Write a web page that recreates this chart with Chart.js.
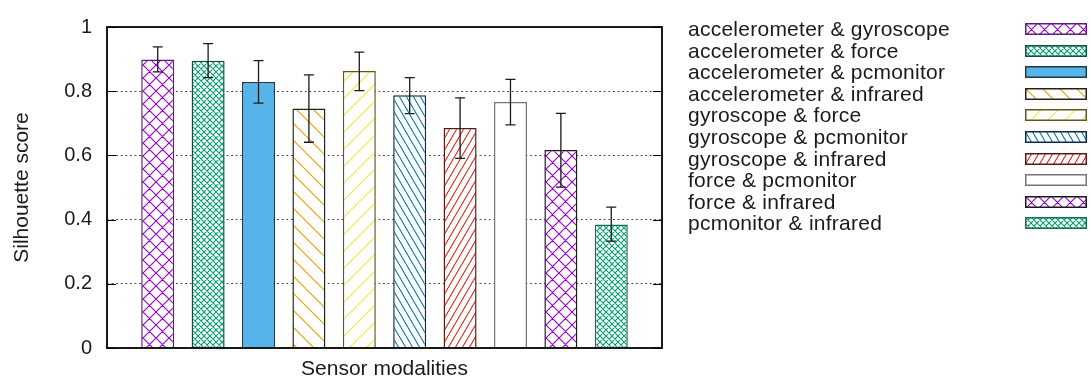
<!DOCTYPE html>
<html>
<head>
<meta charset="utf-8">
<script src="https://cdn.jsdelivr.net/npm/chart.js@4"></script>
<style>
  body { margin: 0; background: #fff; }
  #wrap { position: relative; width: 1091px; height: 380px; }
  #legend { position: absolute; left: 688px; top: 18px; font: 21px "Liberation Sans", Arial, sans-serif; color: #1a1a1a; letter-spacing: 0.25px; }
  .row { position: relative; height: 21.6px; line-height: 21.6px; width: 400px; white-space: nowrap; }
  .row canvas { position: absolute; left: 337px; top: 5px; }
</style>
</head>
<body>
<div id="wrap">
  <canvas id="c" width="1091" height="380"></canvas>
  <div id="legend"></div>
</div>
<script>
// silhouette score per sensor pair, with error bar ends
const SERIES  = ['accelerometer & gyroscope', 'accelerometer & force', 'accelerometer & pcmonitor',
                 'accelerometer & infrared', 'gyroscope & force', 'gyroscope & pcmonitor',
                 'gyroscope & infrared', 'force & pcmonitor', 'force & infrared', 'pcmonitor & infrared'];
const VALUES  = [0.899, 0.895, 0.829, 0.746, 0.863, 0.787, 0.685, 0.766, 0.617, 0.385];
const ERR_HI  = [0.938, 0.948, 0.895, 0.851, 0.922, 0.842, 0.779, 0.837, 0.731, 0.439];
const ERR_LO  = [0.860, 0.842, 0.763, 0.641, 0.802, 0.730, 0.591, 0.695, 0.501, 0.333];
const Y_TICKS = [0, 0.2, 0.4, 0.6, 0.8, 1];

// fill style per bar: [colour, pattern, border]
const FILLS = [
  ['#9400D3', 'xbig',   '#5a1f7a'],
  ['#009E73', 'xsmall', '#0f4f3c'],
  ['#56B4E9', 'solid',  '#1f3a4f'],
  ['#E69F00', 'back',   '#222222'],
  ['#F0E442', 'fwd',    '#5f5a1c'],
  ['#0072B2', 'backs',  '#0d2d45'],
  ['#E51E10', 'fwds',   '#5a1a12'],
  ['#ffffff', 'solid',  '#777777'],
  ['#9400D3', 'xbig',   '#1a1a1a'],
  ['#009E73', 'xsmall', '#1a6b50'],
];

function tile(color, kind) {
  const t = document.createElement('canvas');
  let w = 13, h = 13;
  if (kind === 'xsmall') { w = 6; h = 6; }
  if (kind === 'back' || kind === 'fwd') { w = 17; h = 17; }
  if (kind === 'backs' || kind === 'fwds') { w = 7; h = 12; }
  if (kind === 'solid') { w = 4; h = 4; }
  t.width = w; t.height = h;
  const g = t.getContext('2d');
  g.fillStyle = kind === 'solid' ? color : '#fff';
  g.fillRect(0, 0, w, h);
  if (kind !== 'solid') {
    g.strokeStyle = color; g.lineWidth = 1.1;
    g.beginPath();
    for (const dx of [-w, 0, w]) {
      if (kind !== 'fwd' && kind !== 'fwds') { g.moveTo(dx, 0); g.lineTo(dx + w, h); }
      if (kind !== 'back' && kind !== 'backs') { g.moveTo(dx, h); g.lineTo(dx + w, 0); }
    }
    g.stroke();
  }
  return document.createElement('canvas').getContext('2d').createPattern(t, 'repeat');
}

const patterns = FILLS.map(f => tile(f[0], f[1]));

const frame = {
  id: 'frame',
  afterDatasetsDraw(chart) {
    const { ctx, chartArea: a, scales: { y } } = chart;
    ctx.save();
    ctx.strokeStyle = '#1a1a1a';
    ctx.lineWidth = 1.3;
    chart.data.datasets.forEach((ds, i) => {
      const x = chart.getDatasetMeta(i).data[0].x;
      const t = y.getPixelForValue(ERR_HI[i]), b = y.getPixelForValue(ERR_LO[i]);
      ctx.beginPath();
      ctx.moveTo(x, t); ctx.lineTo(x, b);
      ctx.moveTo(x - 5, t); ctx.lineTo(x + 5, t);
      ctx.moveTo(x - 5, b); ctx.lineTo(x + 5, b);
      ctx.stroke();
    });
    ctx.strokeStyle = '#000';
    ctx.lineWidth = 1;
    ctx.beginPath();
    Y_TICKS.forEach(v => {
      const py = Math.round(y.getPixelForValue(v)) + 0.5;
      ctx.moveTo(a.left, py); ctx.lineTo(a.left + 9, py);
      ctx.moveTo(a.right - 9, py); ctx.lineTo(a.right, py);
    });
    ctx.stroke();
    ctx.lineWidth = 1.8;
    ctx.strokeRect(a.left, a.top, a.right - a.left, a.bottom - a.top);
    ctx.restore();
  }
};

Chart.defaults.font.family = '"Liberation Sans", Arial, sans-serif';
Chart.defaults.color = '#1a1a1a';

new Chart(document.getElementById('c'), {
  type: 'bar',
  data: {
    labels: [''],
    datasets: SERIES.map((s, i) => ({
      label: s,
      data: [VALUES[i]],
      backgroundColor: patterns[i],
      borderColor: FILLS[i][2],
      borderWidth: 1.5,
      categoryPercentage: 0.908,
      barPercentage: 0.655,
    })),
  },
  options: {
    responsive: false, animation: false,
    layout: { padding: { top: 17, right: 429, bottom: 0, left: 0 } },
    plugins: { legend: { display: false }, tooltip: { enabled: false } },
    scales: {
      x: {
        grid: { display: false }, border: { display: false },
        ticks: { display: false },
        title: { display: true, text: 'Sensor modalities', font: { size: 21 }, padding: { top: 0, bottom: -2 } },
        afterFit: s => { s.height = 32; },
      },
      y: {
        min: 0, max: 1,
        afterBuildTicks: s => { s.ticks = Y_TICKS.map(v => ({ value: v })); },
        ticks: { font: { size: 20 }, padding: 15, callback: v => String(v) },
        grid: { drawTicks: false, color: c => (c.tick && (c.tick.value === 0 || c.tick.value === 1)) ? 'rgba(0,0,0,0)' : '#444', lineWidth: 1 },
        border: { display: false, dash: [1.8, 2.8] },
        title: { display: true, text: 'Silhouette score', font: { size: 21 }, padding: { top: 10, bottom: 0 } },
        afterFit: s => { s.width = 107; },
      },
    },
  },
  plugins: [frame],
});

// legend: text on the left, swatch on the right
const leg = document.getElementById('legend');
SERIES.forEach((s, i) => {
  const row = document.createElement('div');
  row.className = 'row';
  row.textContent = s;
  const sw = document.createElement('canvas');
  sw.width = 62; sw.height = 12;
  const g = sw.getContext('2d');
  g.fillStyle = patterns[i];
  g.fillRect(0, 0, 62, 12);
  g.strokeStyle = FILLS[i][2];
  g.lineWidth = 1.5;
  g.strokeRect(0.75, 0.75, 60.5, 10.5);
  row.appendChild(sw);
  leg.appendChild(row);
});
</script>
</body>
</html>
